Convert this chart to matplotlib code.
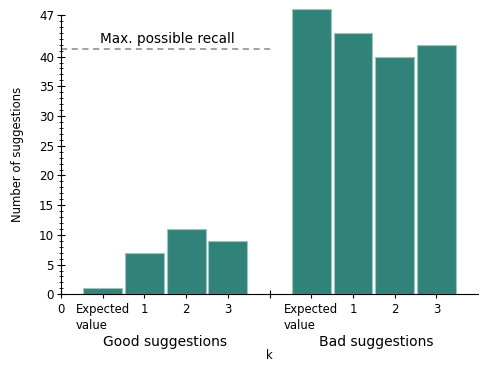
import matplotlib.pyplot as plt
from matplotlib.ticker import MultipleLocator

# data
good_labels = ['Expected\nvalue', '1', '2', '3']
good_values = [1.05, 7, 11, 9]
bad_labels = ['Expected\nvalue', '1', '2', '3']
bad_values = [48, 44, 40, 42]
max_recall = 41.2

good_pos = [1, 2, 3, 4]
bad_pos = [6, 7, 8, 9]
bar_color = '#31837a'

fig = plt.figure(figsize=(4.85, 3.71), dpi=100)
ax = fig.add_axes([0.1258, 0.2067, 0.8598, 0.7529])

for pos, vals in [(good_pos, good_values), (bad_pos, bad_values)]:
    bars = ax.bar(pos, vals, width=0.93, color=bar_color,
                  edgecolor='#9cc5bd', linewidth=0.8, zorder=2)
    for b in bars:
        b.set_clip_on(False)

ax.plot([0, 5], [max_recall, max_recall], ls=(0, (4, 3)), color='#888888', lw=1.1)
ax.text(2.55, max_recall + 0.5, 'Max. possible recall', ha='center', va='bottom', fontsize=9.8)

ax.set_xlim(0, 10)
ax.set_ylim(0, 47)
ax.set_xticks([0] + good_pos + [5] + bad_pos)
ax.set_xticklabels(['0'] + good_labels + [''] + bad_labels, fontsize=8.4,
                   multialignment='left', linespacing=1.35)
ax.set_yticks([0, 5, 10, 15, 20, 25, 30, 35, 40, 47])
ax.set_yticklabels(['0', '5', '10', '15', '20', '25', '30', '35', '40', '47'], fontsize=8.6)
ax.yaxis.set_minor_locator(MultipleLocator(1))
ax.tick_params(axis='both', which='major', direction='inout', length=6, width=0.8, pad=3)
ax.tick_params(axis='y', which='major', pad=2)
ax.tick_params(axis='y', which='minor', direction='inout', length=3, width=0.6)

ax.spines['top'].set_visible(False)
ax.spines['right'].set_visible(False)

ax.set_ylabel('Number of suggestions', fontsize=8.4, labelpad=11)
ax.set_xlabel('k', fontsize=8.4, labelpad=12)

fig.text(165 / 485, 1 - 342 / 371, 'Good suggestions', ha='center', va='center', fontsize=10)
fig.text(376 / 485, 1 - 342 / 371, 'Bad suggestions', ha='center', va='center', fontsize=10)

fig.savefig('out.png', dpi=100)
